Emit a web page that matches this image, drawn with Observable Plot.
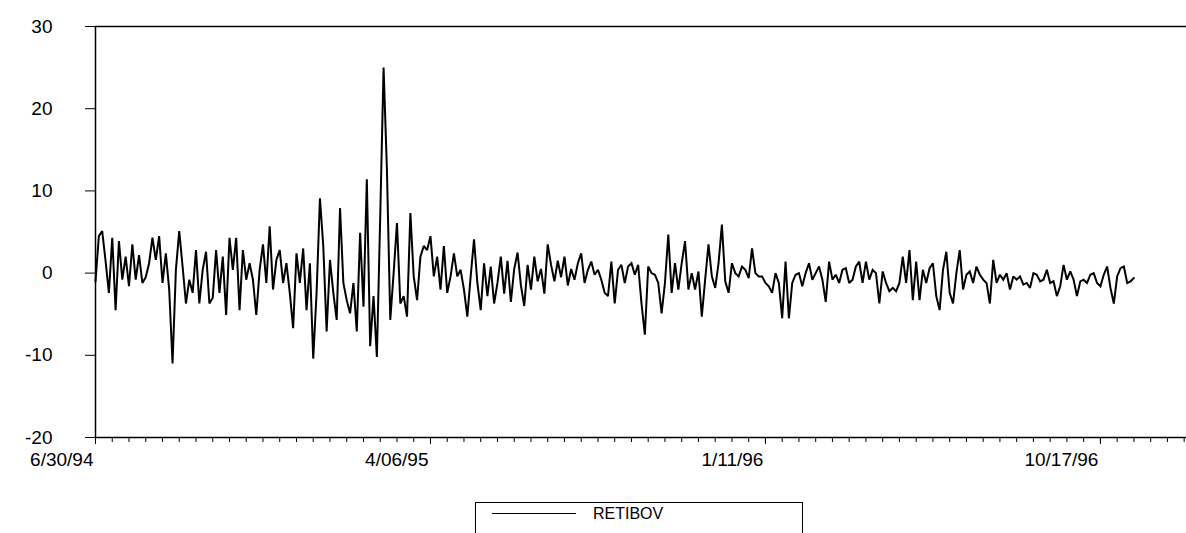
<!DOCTYPE html>
<html>
<head>
<meta charset="utf-8">
<script src="https://cdn.jsdelivr.net/npm/d3@7"></script>
<script src="https://cdn.jsdelivr.net/npm/@observablehq/plot@0.6"></script>
<style>
  html, body { margin: 0; padding: 0; background: #fff; }
  #wrap { position: relative; width: 1186px; height: 533px; overflow: hidden; font-family: "Liberation Sans", Arial, sans-serif; }
  #legend { position: absolute; left: 475px; top: 502px; width: 328px; height: 45px; border: 1px solid #000; border-bottom: none; box-sizing: border-box; }
  #legend .sample { position: absolute; left: 16px; top: 10px; width: 84px; height: 0; border-top: 1.5px solid #000; }
  #legend .label { position: absolute; left: 117px; top: 2px; font-size: 16px; color: #000; }
</style>
</head>
<body>
<div id="wrap"><div id="chart"></div><div id="legend"><div class="sample"></div><div class="label"></div></div></div>
<script>
// Series (observation order, daily returns)
const seriesName = "RETIBOV";
const retibov = [
  -1.0, 4.5, 5.1, 1.5, -2.4, 4.3, -4.5, 3.9, -0.8, 2.0,
  -1.6, 3.5, -0.8, 2.2, -1.2, -0.5, 1.2, 4.3, 1.6, 4.5,
  -1.2, 2.4, -2.0, -11.0, 0.4, 5.1, 0.8, -3.7, -0.8, -2.4,
  2.8, -3.7, 0.4, 2.6, -3.7, -3.0, 2.8, -2.4, 2.0, -5.1,
  4.3, 0.4, 4.3, -4.5, 2.8, -0.8, 1.2, -0.8, -5.1, 0.4,
  3.5, -1.2, 5.7, -2.0, 1.6, 2.8, -1.2, 1.2, -2.4, -6.7,
  2.4, -1.2, 3.0, -4.5, 1.2, -10.4, -2.4, 9.1, 3.3, -7.1,
  1.6, -2.4, -5.7, 7.9, -1.2, -3.3, -4.9, -1.2, -7.1, 4.9,
  -4.1, 11.4, -8.9, -2.8, -10.2, 6.9, 25.0, 12.6, -5.7, 0.0,
  6.1, -3.7, -2.8, -5.3, 7.3, -0.4, -3.3, 2.0, 3.3, 2.8,
  4.5, -0.4, 2.0, -2.0, 3.3, -2.4, -0.4, 2.4, -0.4, 0.4,
  -2.0, -5.3, -0.4, 4.1, -1.2, -4.5, 1.2, -2.8, 0.8, -3.7,
  -1.2, 2.0, -2.5, 1.5, -3.5, 0.5, 2.5, -1.5, -4.0, 1.0,
  -2.0, 2.0, -1.0, 0.5, -2.5, 3.5, 1.0, -1.0, 1.5, -0.5,
  2.0, -1.5, 0.5, -0.8, 1.2, 2.4, -1.2, 0.4, 1.4, -0.2,
  0.4, -0.8, -2.4, -2.8, 1.4, -3.7, 0.4, 1.0, -1.2, 0.8,
  1.2, -0.2, 1.0, -3.7, -7.5, 0.8, 0.0, -0.2, -1.2, -4.9,
  -1.2, 4.7, -2.4, 1.2, -2.0, 1.2, 3.9, -2.0, 0.0, -2.0,
  0.2, -5.3, -0.8, 3.5, -0.4, -1.8, 1.2, 5.9, -1.0, -2.4,
  1.2, 0.0, -0.4, 0.8, 0.4, -0.6, 3.0, 0.0, -0.4, -0.4,
  -1.2, -1.6, -2.4, 0.0, -1.2, -5.5, 1.4, -5.5, -1.2, -0.2,
  0.0, -1.6, 0.0, 1.2, -0.8, 0.0, 0.8, -0.8, -3.5, 1.4,
  -0.8, -0.2, -1.2, 0.4, 0.6, -1.2, -0.8, 0.8, 1.4, -1.2,
  1.4, -0.8, 0.4, 0.0, -3.7, 0.2, -1.2, -2.2, -1.8, -2.2,
  -1.2, 2.0, -1.2, 2.8, -3.3, 1.4, -3.3, 0.4, -1.2, 0.6,
  1.2, -2.8, -4.5, 0.4, 2.6, -2.4, -3.7, 0.0, 2.8, -2.0,
  -0.2, 0.2, -1.2, 0.8, -0.2, -0.8, -1.2, -3.7, 1.6, -1.2,
  -0.2, -0.8, 0.0, -2.0, -0.4, -0.8, -0.4, -1.4, -1.2, -1.8,
  0.0, -0.2, -1.0, -0.8, 0.4, -1.2, -1.0, -2.8, -1.6, 1.0,
  -0.8, 0.2, -0.8, -2.8, -1.0, -0.8, -1.2, -0.2, 0.0, -1.2,
  -1.6, -0.2, 0.8, -1.8, -3.7, -0.4, 0.6, 0.8, -1.2, -1.0, -0.6
];
// x axis: observation index; labelled dates every 100 observations
const xTickObs = [0, 100, 200, 300];
const xTickLabels = ["6/30/94", "4/06/95", "1/11/96", "10/17/96"];
const xMinorStep = 5;
const xMax = 325.7;
const yTicks = [-20, -10, 0, 10, 20, 30];
const yDomain = [-20, 30];

const data = retibov.map((v, i) => ({i, v}));
const minor = d3.range(0, xMax, xMinorStep);
const font = "Liberation Sans, Arial, sans-serif";

const chart = Plot.plot({
  width: 1186,
  height: 475,
  marginLeft: 95,
  marginRight: 0,
  marginTop: 26,
  marginBottom: 38,
  style: {fontFamily: font, fontSize: "19px", color: "#000", background: "#fff"},
  x: {domain: [0, xMax], axis: null},
  y: {domain: yDomain, axis: null},
  marks: [
    Plot.ruleY([yDomain[1]], {stroke: "#000", strokeWidth: 1.5}),
    Plot.ruleY([yDomain[0]], {stroke: "#000", strokeWidth: 1.5}),
    Plot.ruleX([0], {stroke: "#000", strokeWidth: 1.5}),
    Plot.lineY(data, {x: "i", y: "v", stroke: "#000", strokeWidth: 2, strokeLinejoin: "miter", strokeMiterlimit: 2}),
    Plot.axisY(yTicks, {label: null, tickSize: 10, tickPadding: 33, fontSize: 19, stroke: "#000", strokeWidth: 1, tickFormat: d => String(d)}),
    Plot.axisX(minor, {label: null, tickSize: 5, text: null, stroke: "#000"}),
    Plot.axisX(xTickObs, {label: null, tickSize: 7, text: null, stroke: "#000"}),
    Plot.axisX(xTickObs, {label: null, tickSize: 0, tickPadding: 15, tickFormat: (d, i) => xTickLabels[i], textAnchor: "end", fontSize: 19, dx: -2})
  ]
});
document.getElementById("chart").appendChild(chart);
document.querySelector("#legend .label").textContent = seriesName;
</script>
</body>
</html>
